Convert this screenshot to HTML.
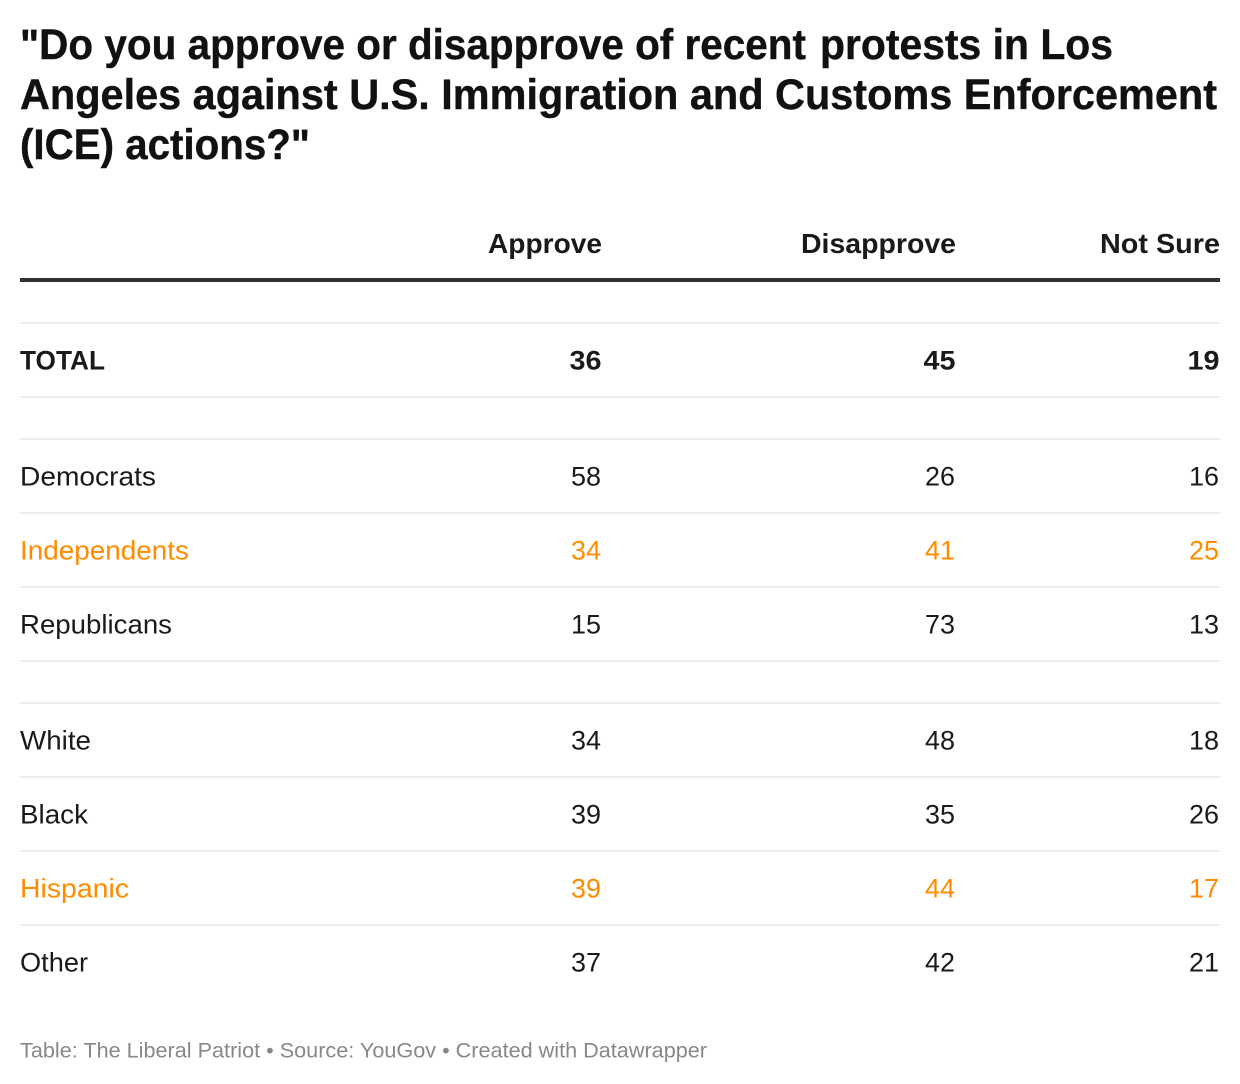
<!DOCTYPE html>
<html lang="en">
<head>
<meta charset="utf-8">
<title>Los Angeles ICE protests approval table</title>
<style>
html,body{margin:0;padding:0;background:#fff;}
body{width:1240px;height:1084px;overflow:hidden;}
svg{display:block;}
text{font-family:"Liberation Sans",Arial,sans-serif;fill:#1a1a1a;}
.t{font-size:43px;font-weight:700;fill:#111;stroke:#111;stroke-width:0.4px;}
.h{font-size:28px;font-weight:700;}
.b{font-size:26.5px;}
.s{font-weight:700;}
.o{fill:#ff8c00;}
.n{text-anchor:end;}
.f{font-size:21.5px;fill:#888;}
</style>
</head>
<body>
<svg width="1240" height="1084" viewBox="0 0 1240 1084">
<rect width="1240" height="1084" fill="#fff"/>

<g>
<text class="t" x="20" y="59" textLength="786" lengthAdjust="spacingAndGlyphs">"Do you approve or disapprove of recent</text>
<text class="t" x="820" y="59" textLength="293" lengthAdjust="spacingAndGlyphs">protests in Los</text>
<text class="t" x="20" y="109" textLength="1197" lengthAdjust="spacingAndGlyphs">Angeles against U.S. Immigration and Customs Enforcement</text>
<text class="t" x="20" y="159" textLength="290" lengthAdjust="spacingAndGlyphs">(ICE) actions?"</text>
</g>

<g>
<text class="h n" x="602" y="253" textLength="114" lengthAdjust="spacingAndGlyphs">Approve</text>
<text class="h n" x="956" y="253" textLength="155" lengthAdjust="spacingAndGlyphs">Disapprove</text>
<text class="h n" x="1220" y="253" textLength="120" lengthAdjust="spacingAndGlyphs">Not Sure</text>
</g>

<g>
<rect x="20" y="278" width="1200" height="4" fill="#333"/>
<rect x="20" y="322" width="1200" height="2" fill="#eee"/>
<rect x="20" y="396" width="1200" height="2" fill="#eee"/>
<rect x="20" y="438" width="1200" height="2" fill="#eee"/>
<rect x="20" y="512" width="1200" height="2" fill="#eee"/>
<rect x="20" y="586" width="1200" height="2" fill="#eee"/>
<rect x="20" y="660" width="1200" height="2" fill="#eee"/>
<rect x="20" y="702" width="1200" height="2" fill="#eee"/>
<rect x="20" y="776" width="1200" height="2" fill="#eee"/>
<rect x="20" y="850" width="1200" height="2" fill="#eee"/>
<rect x="20" y="924" width="1200" height="2" fill="#eee"/>
</g>

<g class="b s">
<text x="20" y="369.5" textLength="85" lengthAdjust="spacingAndGlyphs">TOTAL</text>
<text class="n" x="601.5" y="369.5" textLength="32" lengthAdjust="spacingAndGlyphs">36</text>
<text class="n" x="955.5" y="369.5" textLength="32" lengthAdjust="spacingAndGlyphs">45</text>
<text class="n" x="1219.5" y="369.5" textLength="32" lengthAdjust="spacingAndGlyphs">19</text>
</g>

<g class="b">
<text x="20" y="485.5" textLength="136" lengthAdjust="spacingAndGlyphs">Democrats</text>
<text class="n" x="601" y="485.5" textLength="30" lengthAdjust="spacingAndGlyphs">58</text>
<text class="n" x="955" y="485.5" textLength="30" lengthAdjust="spacingAndGlyphs">26</text>
<text class="n" x="1219" y="485.5" textLength="30" lengthAdjust="spacingAndGlyphs">16</text>
</g>

<g class="b o">
<text class="o" x="20" y="559.5" textLength="169" lengthAdjust="spacingAndGlyphs">Independents</text>
<text class="o n" x="601" y="559.5" textLength="30" lengthAdjust="spacingAndGlyphs">34</text>
<text class="o n" x="955" y="559.5" textLength="30" lengthAdjust="spacingAndGlyphs">41</text>
<text class="o n" x="1219" y="559.5" textLength="30" lengthAdjust="spacingAndGlyphs">25</text>
</g>

<g class="b">
<text x="20" y="633.5" textLength="152" lengthAdjust="spacingAndGlyphs">Republicans</text>
<text class="n" x="601" y="633.5" textLength="30" lengthAdjust="spacingAndGlyphs">15</text>
<text class="n" x="955" y="633.5" textLength="30" lengthAdjust="spacingAndGlyphs">73</text>
<text class="n" x="1219" y="633.5" textLength="30" lengthAdjust="spacingAndGlyphs">13</text>
</g>

<g class="b">
<text x="20" y="749.5" textLength="71" lengthAdjust="spacingAndGlyphs">White</text>
<text class="n" x="601" y="749.5" textLength="30" lengthAdjust="spacingAndGlyphs">34</text>
<text class="n" x="955" y="749.5" textLength="30" lengthAdjust="spacingAndGlyphs">48</text>
<text class="n" x="1219" y="749.5" textLength="30" lengthAdjust="spacingAndGlyphs">18</text>
</g>

<g class="b">
<text x="20" y="823.5" textLength="68" lengthAdjust="spacingAndGlyphs">Black</text>
<text class="n" x="601" y="823.5" textLength="30" lengthAdjust="spacingAndGlyphs">39</text>
<text class="n" x="955" y="823.5" textLength="30" lengthAdjust="spacingAndGlyphs">35</text>
<text class="n" x="1219" y="823.5" textLength="30" lengthAdjust="spacingAndGlyphs">26</text>
</g>

<g class="b o">
<text class="o" x="20" y="897.5" textLength="109" lengthAdjust="spacingAndGlyphs">Hispanic</text>
<text class="o n" x="601" y="897.5" textLength="30" lengthAdjust="spacingAndGlyphs">39</text>
<text class="o n" x="955" y="897.5" textLength="30" lengthAdjust="spacingAndGlyphs">44</text>
<text class="o n" x="1219" y="897.5" textLength="30" lengthAdjust="spacingAndGlyphs">17</text>
</g>

<g class="b">
<text x="20" y="971.5" textLength="68" lengthAdjust="spacingAndGlyphs">Other</text>
<text class="n" x="601" y="971.5" textLength="30" lengthAdjust="spacingAndGlyphs">37</text>
<text class="n" x="955" y="971.5" textLength="30" lengthAdjust="spacingAndGlyphs">42</text>
<text class="n" x="1219" y="971.5" textLength="30" lengthAdjust="spacingAndGlyphs">21</text>
</g>

<text class="f" x="20" y="1057.5" textLength="687" lengthAdjust="spacingAndGlyphs">Table: The Liberal Patriot • Source: YouGov • Created with Datawrapper</text>
</svg>
</body>
</html>
